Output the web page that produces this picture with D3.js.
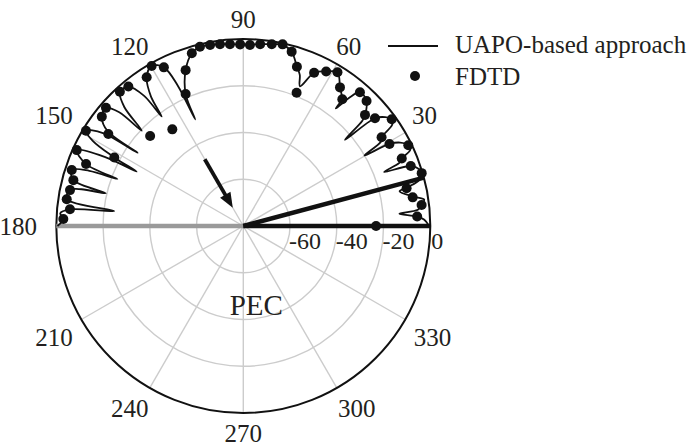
<!DOCTYPE html>
<html>
<head>
<meta charset="utf-8">
<script src="https://d3js.org/d3.v7.min.js"></script>
<style>
  body { margin: 0; background: #fff; }
  text { font-family: "Liberation Serif", "Times New Roman", serif; fill: #231f20; }
</style>
</head>
<body>
<div id="chart"></div>
<script>
// radial axis (dB) and angle ticks
const dbTicks = [-60, -40, -20, 0];
const angleTicks = [30, 60, 90, 120, 150, 180, 210, 240, 270, 300, 330];
const spokeAngles = [0, 30, 60, 90, 120, 150, 180, 210, 240, 270, 300, 330];

// UAPO-based approach (angle in deg, level in dB)
const uapoAngle = [0, 2, 3.1, 4.5, 5.3, 6.7, 8.3, 9.6, 12.5, 13.3, 14.5, 16.5, 17.8, 19.7, 21, 22, 23.1, 24.5, 26.1, 28,
  29.3, 30.2, 31.5, 32.7, 34.2, 35.7, 37.5, 39.3, 40.3, 41.5, 42.4, 45.4, 48.9, 50.5, 51.8, 52.2, 55.1, 58.5, 61.8, 65.2,
  67.9, 69.5, 71.4, 74.5, 77.8, 81.1, 84.7, 87.9, 91, 94.2, 97.3, 100.4, 103.6, 106.6, 110.3, 113.6, 114.3, 115, 116.6, 119.8,
  123, 125.5, 126.7, 127.3, 129.5, 132.6, 135, 136.8, 137.5, 139.3, 142.3, 145, 145.3, 146.5, 148.8, 150.5, 152, 153, 153.5, 155.5,
  158.5, 159.5, 160.3, 161.9, 164.9, 166.6, 167.2, 168.3, 171.4, 173.4, 174.5, 176, 177.8, 180];
const uapoDb = [-0.5, -2.5, -5.5, -13, -5, -3.2, -1.8, -5.5, -11.5, -8, -2.5, -0.4, -0.8, -3.9, -15.5, -8, -6.3, -1.5, -1.4, -4,
  -8.3, -20, -11, -9.7, -3, -1.8, -3.5, -7.2, -23, -12, -9.5, -4.9, -4.1, -9, -16, -11.2, -7.7, -2.9, -5, -7.8,
  -15.5, -11, -8.1, -2.6, -0.7, -1.3, -1.9, -2.3, -2.3, -2, -1.6, -1.3, -1.1, -2.9, -8.9, -18.4, -30, -14, -4.1, -1.1,
  -4.1, -12, -21.6, -10, -2.7, -2, -8, -20.4, -8, -2.5, -3.5, -9, -25, -8, -1.3, -6, -17.5, -28.8, -14, -1.7,
  -7.7, -22.5, -10, -2.8, -4.7, -19.5, -9, -4.3, -3.6, -24.4, -5.5, -1.5, -2.95, -0.5];

// FDTD samples
const fdtdAngle = [0, 3.1, 6.7, 9.6, 13, 16.5, 19.7, 23.1, 26.1, 29.3, 32.7, 35.7, 39.3, 42.4, 45.4, 48.9, 52, 55.1, 58.5, 61.8,
  65.2, 68.2, 71.4, 74.5, 77.8, 81.1, 84.7, 87.9, 91, 94.2, 97.3, 100.4, 103.6, 106.6, 110.3, 113.6, 116.6, 119.8, 123, 126.3,
  129.5, 132.6, 136, 139.3, 142.3, 145.7, 148.8, 152, 155.5, 158.5, 161.9, 164.9, 168.3, 171.4, 174.5, 177.8];
const fdtdDb = [-23.2, -5.5, -3.2, -6.5, -8.3, -0.4, -3.9, -6.3, -1.4, -8.3, -9.7, -1.8, -7.2, -9.5, -4.9, -4.1, -11.2, -7.7, -2.9, -5,
  -7.8, -18.6, -8.1, -2.6, -0.5, -1.3, -1.9, -2.5, -2.3, -2.05, -1.6, -1.3, -1.1, -2.9, -8.9, -18.4, -4.1, -1.1, -4.1, -28.7,
  -2.7, -2, -24.6, -2.5, -3.5, -10.1, -1.3, -17.5, -1.7, -7.7, -2.8, -4.7, -4.3, -3.6, -5.5, -2.95];

// incident arrow, reflected direction, plate
const incidentAngle = 120;
const incidentDb = [-47, -71];
const beamAngles = [0, 15];
const plateAngle = 180;

const seriesNames = ["UAPO-based approach", "FDTD"];

const width = 689, height = 445;
const cx = 243.3, cy = 226, R = 187;

const svg = d3.select("#chart").append("svg")
    .attr("width", width)
    .attr("height", height);

const g = svg.append("g")
    .attr("transform", "translate(" + cx + "," + cy + ")");

const r = d3.scaleLinear().domain([-80, 0]).range([0, R]).clamp(true);
const rad = a => a * Math.PI / 180;
// screen point for (angle, dB)
const pt = (a, db) => [r(db) * Math.cos(rad(a)), -r(db) * Math.sin(rad(a))];

// grid circles
g.append("g").selectAll("circle")
    .data(dbTicks.slice(0, -1))
    .enter().append("circle")
    .attr("r", d => r(d))
    .attr("fill", "none")
    .attr("stroke", "#cccccc")
    .attr("stroke-width", 1.4);

// spokes
g.append("g").selectAll("line")
    .data(spokeAngles)
    .enter().append("line")
    .attr("x1", 0).attr("y1", 0)
    .attr("x2", d => pt(d, 0)[0])
    .attr("y2", d => pt(d, 0)[1])
    .attr("stroke", "#cccccc")
    .attr("stroke-width", 1.4);

// outer ring
g.append("circle")
    .attr("r", r(0))
    .attr("fill", "none")
    .attr("stroke", "#111")
    .attr("stroke-width", 2);

// plate (grey) and beam lines (black)
g.append("line")
    .attr("x1", 0).attr("y1", 0)
    .attr("x2", pt(plateAngle, 0)[0]).attr("y2", pt(plateAngle, 0)[1])
    .attr("stroke", "#9a9a9a")
    .attr("stroke-width", 4.5);

g.append("g").selectAll("line")
    .data(beamAngles)
    .enter().append("line")
    .attr("x1", 0).attr("y1", 0)
    .attr("x2", d => pt(d, 0)[0])
    .attr("y2", d => pt(d, 0)[1])
    .attr("stroke", "#111")
    .attr("stroke-width", 4.5);

// incident arrow
const a0 = pt(incidentAngle, incidentDb[0]), a1 = pt(incidentAngle, incidentDb[1]);
const ux = (a1[0] - a0[0]), uy = (a1[1] - a0[1]);
const len = Math.sqrt(ux * ux + uy * uy);
const dx = ux / len, dy = uy / len;
const headL = 15, headW = 6;
g.append("line")
    .attr("x1", a0[0]).attr("y1", a0[1])
    .attr("x2", a1[0] - dx * headL * 0.8).attr("y2", a1[1] - dy * headL * 0.8)
    .attr("stroke", "#111")
    .attr("stroke-width", 3.8);
g.append("path")
    .attr("d", "M" + a1[0] + "," + a1[1] +
      "L" + (a1[0] - dx * headL - dy * headW) + "," + (a1[1] - dy * headL + dx * headW) +
      "L" + (a1[0] - dx * headL + dy * headW) + "," + (a1[1] - dy * headL - dx * headW) + "Z")
    .attr("fill", "#111");

// UAPO curve
const uapo = uapoAngle.map((a, i) => [a, uapoDb[i]]);
const line = d3.lineRadial()
    .angle(d => rad(90 - d[0]))
    .radius(d => r(d[1]))
    .curve(d3.curveCatmullRom.alpha(0.5));

g.append("path")
    .datum(uapo)
    .attr("d", line)
    .attr("fill", "none")
    .attr("stroke", "#111")
    .attr("stroke-width", 1.8);

// FDTD dots
const fdtd = fdtdAngle.map((a, i) => [a, fdtdDb[i]]);
g.append("g").selectAll("circle")
    .data(fdtd)
    .enter().append("circle")
    .attr("cx", d => pt(d[0], d[1])[0])
    .attr("cy", d => pt(d[0], d[1])[1])
    .attr("r", 5)
    .attr("fill", "#111");

// dB labels
g.append("g").selectAll("text")
    .data(dbTicks)
    .enter().append("text")
    .attr("x", d => r(d) + (d === 0 ? 1 : -1))
    .attr("y", 23)
    .attr("font-size", 24)
    .text(d => d);

// angle labels
g.append("g").selectAll("text")
    .data(angleTicks)
    .enter().append("text")
    .attr("x", d => {
      const c = Math.cos(rad(d));
      const s = Math.abs(c) < 0.01 ? 0 : Math.sign(c);
      const extra = Math.abs(c) > 0.99 ? 18 : (String(d).length > 2 ? 10 : 2);
      return 207 * c + s * extra;
    })
    .attr("y", d => {
      const s = Math.sin(rad(d));
      let off = 0;
      if (Math.abs(Math.abs(s) - 0.5) < 0.01) off = 7.5;
      if (d === 240 || d === 300) off = 3;
      return -207 * s - Math.sign(s) * off;
    })
    .attr("dy", "0.34em")
    .attr("text-anchor", "middle")
    .attr("font-size", 25)
    .text(d => d);

// PEC label
g.append("text")
    .attr("x", 13)
    .attr("y", 89)
    .attr("text-anchor", "middle")
    .attr("font-size", 29)
    .text("PEC");

// legend
const legend = svg.append("g").attr("transform", "translate(388,0)");
legend.append("line")
    .attr("x1", 0).attr("x2", 50)
    .attr("y1", 46).attr("y2", 46)
    .attr("stroke", "#111")
    .attr("stroke-width", 2);
legend.append("circle")
    .attr("cx", 27).attr("cy", 76)
    .attr("r", 5)
    .attr("fill", "#111");
legend.selectAll("text")
    .data(seriesNames)
    .enter().append("text")
    .attr("x", 67)
    .attr("y", (d, i) => 44 + i * 32)
    .attr("dy", "0.34em")
    .attr("font-size", 25)
    .text(d => d);
</script>
</body>
</html>
